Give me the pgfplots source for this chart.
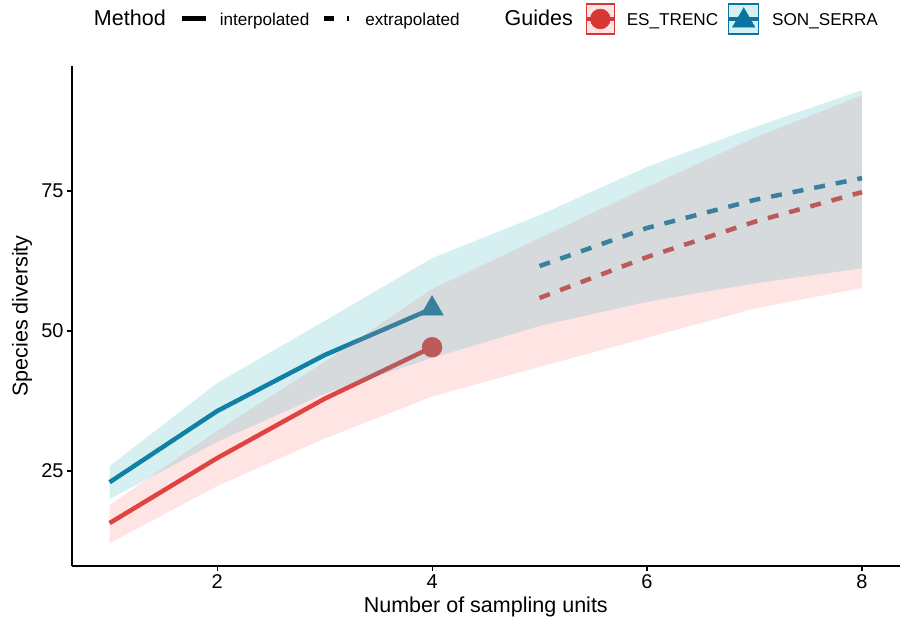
\documentclass[border=0pt]{standalone}
\usepackage{fontspec}
\setmainfont{Liberation Sans}
\usepackage{pgfplots}
\pgfplotsset{compat=1.18}

\definecolor{redline}{RGB}{214,55,50}
\definecolor{blueline}{RGB}{10,115,160}
\definecolor{redfill}{RGB}{255,120,120}
\definecolor{bluefill}{RGB}{50,180,190}

\begin{document}
\begin{tikzpicture}
\path[use as bounding box] (0,0) rectangle (901bp,623bp);
\begin{axis}[
  at={(72bp,57bp)}, anchor=south west,
  scale only axis, width=827.6bp, height=500bp,
  xmin=0.65, xmax=8.35, ymin=8.04, ymax=97.32,
  axis x line=bottom, axis y line=left,
  axis line style={-, line width=1.2bp, black},
  xtick={2,4,6,8}, ytick={25,50,75},
  tick align=outside, major tick length=5bp,
  tick style={line width=1.1bp, black},
  /pgf/number format/assume math mode=true,
  ticklabel style={font=\fontsize{20}{24}\selectfont},
  xlabel={Number of sampling units}, ylabel={Species diversity},
  label style={font=\fontsize{21.6}{25}\selectfont},
  xlabel style={at={(axis description cs:0.5,0)}, anchor=center, yshift=-41bp},
  ylabel style={at={(axis description cs:-0.0604,0.5)}, anchor=center},
  clip=false, clip marker paths=true,
  legend style={
    at={(0.5002,1.094)}, anchor=center,
    draw=none, fill=none, inner sep=0pt, outer sep=0pt,
    legend columns=-1,
    /tikz/every even column/.style={column sep=0pt},
    /tikz/every odd column/.style={column sep=0pt},
    nodes={inner sep=0pt, outer sep=0pt, anchor=base west,
           font=\fontsize{17.2}{20}\selectfont},
  },
  legend cell align=left,
]
% legend
\addlegendimage{empty legend}
\addlegendentry{\fontsize{21.6}{25}\selectfont Method}
\addlegendimage{legend image code/.code={
  \path[draw=none] (0,0) -- (54bp,0);
  \draw[black, line width=5bp] (16bp,6.2bp) -- (40bp,6.2bp);}}
\addlegendentry{interpolated}
\addlegendimage{legend image code/.code={
  \path[draw=none] (0,0) -- (56bp,0);
  \draw[black, line width=5bp, dash pattern=on 10bp off 13bp on 2bp off 50bp] (15bp,6.2bp) -- (40bp,6.2bp);}}
\addlegendentry{extrapolated}
\addlegendimage{legend image code/.code={\path[draw=none] (0,0) -- (45bp,0);}}
\addlegendentry{\fontsize{21.6}{25}\selectfont Guides}
\addlegendimage{legend image code/.code={
  \path[draw=none] (0,0) -- (54bp,0);
  \draw[redline, line width=1.4bp, fill=redfill, fill opacity=0.2] (13.5bp,-8.8bp) rectangle (41.5bp,21.2bp);
  \draw[redline, line width=4.5bp] (13.5bp,6.2bp) -- (41.5bp,6.2bp);
  \draw[redline, mark=*, mark size=10bp] plot coordinates {(27.5bp,6.2bp)};}}
\addlegendentry{ES\_TRENC}
\addlegendimage{legend image code/.code={
  \path[draw=none] (0,0) -- (54bp,0);
  \draw[blueline, line width=1.4bp, fill=bluefill, fill opacity=0.2] (10.5bp,-8.8bp) rectangle (40.5bp,21.2bp);
  \draw[blueline, line width=4.5bp] (10.5bp,6.2bp) -- (40.5bp,6.2bp);
  \draw[blueline, mark=triangle*, mark size=13bp] plot coordinates {(25.5bp,4.5bp)};}}
\addlegendentry{SON\_SERRA}

% ES_TRENC lines
\addplot[forget plot, redline, line width=4.5bp] coordinates {(1,15.7)(2,27.3)(3,37.9)(4,47.1)};
\addplot[forget plot, redline, line width=4.5bp, dash pattern=on 11bp off 11bp] coordinates {(5,55.9)(6,63.2)(7,69.5)(8,74.8)};
% SON_SERRA lines
\addplot[forget plot, blueline, line width=4.5bp] coordinates {(1,23.0)(2,35.7)(3,45.7)(4,54.0)};
\addplot[forget plot, blueline, line width=4.5bp, dash pattern=on 11bp off 11bp] coordinates {(5,61.6)(6,68.4)(7,73.4)(8,77.3)};
% observed points
\addplot[forget plot, only marks, mark=*, mark size=10bp, redline] coordinates {(4,47.1)};
\addplot[forget plot, only marks, mark=triangle*, mark size=13bp, blueline] coordinates {(4,54.0)};

% confidence bands
\addplot[forget plot, draw=none, fill=redfill, fill opacity=0.2] coordinates {
  (1,12.1)(2,22.3)(3,30.8)(4,38.3)(5,43.6)(6,48.8)(7,54.0)(8,57.7)
  (8,92.1)(7,84.5)(6,75.7)(5,66.6)(4,57.5)(3,44.5)(2,32.2)(1,18.9)};
\addplot[forget plot, draw=none, fill=bluefill, fill opacity=0.2] coordinates {
  (1,20.0)(2,30.2)(3,38.8)(4,45.2)(5,50.9)(6,55.2)(7,58.5)(8,61.2)
  (8,93.0)(7,86.4)(6,79.3)(5,70.7)(4,63.0)(3,51.8)(2,40.7)(1,25.9)};
\end{axis}
\end{tikzpicture}
\end{document}
